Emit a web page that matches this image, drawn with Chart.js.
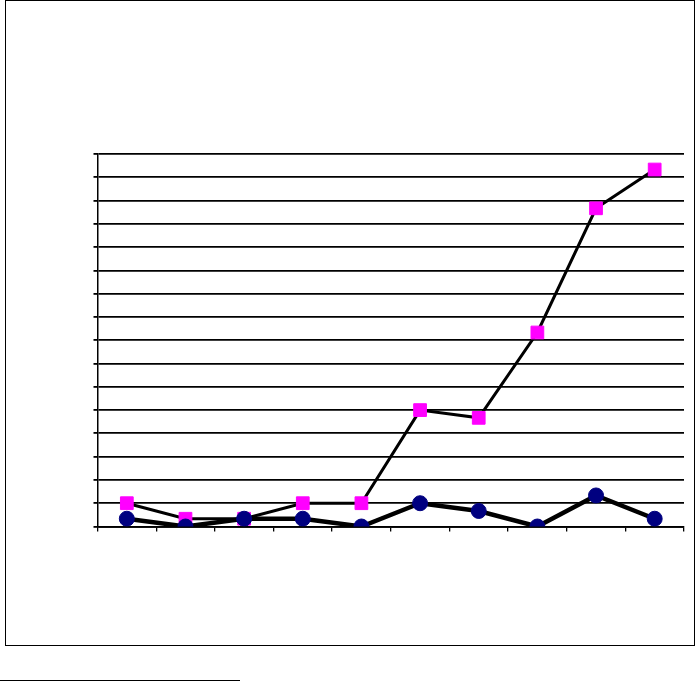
<!DOCTYPE html>
<html>
<head>
<meta charset="utf-8">
<script src="https://cdn.jsdelivr.net/npm/chart.js@4/dist/chart.umd.min.js"></script>
<style>
  html, body { margin: 0; padding: 0; background: #fff; }
  #wrap { position: relative; width: 697px; height: 682px; }
  #frame { position: absolute; left: 5px; top: 0px; width: 688px; height: 644px; border: 1.5px solid #000; }
  #foot { position: absolute; left: 0px; top: 680px; width: 240px; height: 0; border-top: 1.5px solid #000; }
  canvas { position: absolute; left: 0; top: 0; }
</style>
</head>
<body>
<div id="wrap">
  <div id="frame"></div>
  <div id="foot"></div>
  <canvas id="c" width="697" height="682"></canvas>
</div>
<script>
const categories = ["1", "2", "3", "4", "5", "6", "7", "8", "9", "10"];
const seriesMagenta = [3, 1, 1, 3, 3, 15, 14, 25, 41, 46];
const seriesNavy = [1, 0, 1, 1, 0, 3, 2, 0, 4, 1];
const yMin = 0, yMax = 48, yStep = 3;

new Chart(document.getElementById('c'), {
  type: 'line',
  data: {
    labels: categories,
    datasets: [
      {
        label: 'B',
        data: seriesNavy,
        borderColor: '#000',
        borderWidth: 4.5,
        backgroundColor: '#000080',
        pointBackgroundColor: '#000080',
        pointBorderColor: '#000080',
        pointBorderWidth: 1,
        pointStyle: 'circle',
        pointRadius: 7.5,
        tension: 0
      },
      {
        label: 'A',
        data: seriesMagenta,
        borderColor: '#000',
        borderWidth: 3,
        backgroundColor: '#ff00ff',
        pointBackgroundColor: '#ff00ff',
        pointBorderColor: '#ff00ff',
        pointBorderWidth: 1,
        pointStyle: 'rect',
        pointRadius: 9,
        tension: 0
      }
    ]
  },
  options: {
    responsive: false,
    animation: false,
    devicePixelRatio: 1,
    layout: { padding: { left: 93.5, right: 13, top: 154, bottom: 150.5 } },
    plugins: { legend: { display: false }, tooltip: { enabled: false }, title: { display: false } },
    scales: {
      x: {
        type: 'category',
        offset: true,
        grid: { display: true, offset: true, drawOnChartArea: false, drawTicks: true, tickLength: 5, color: '#000', lineWidth: 1.3 },
        border: { display: true, color: '#000', width: 1.7 },
        ticks: { display: false }
      },
      y: {
        min: yMin, max: yMax,
        grid: { color: '#000', lineWidth: 1.8, drawTicks: true, tickLength: 4 },
        border: { display: true, color: '#000', width: 1.5 },
        ticks: { display: false, stepSize: yStep }
      }
    }
  }
});
</script>
</body>
</html>
